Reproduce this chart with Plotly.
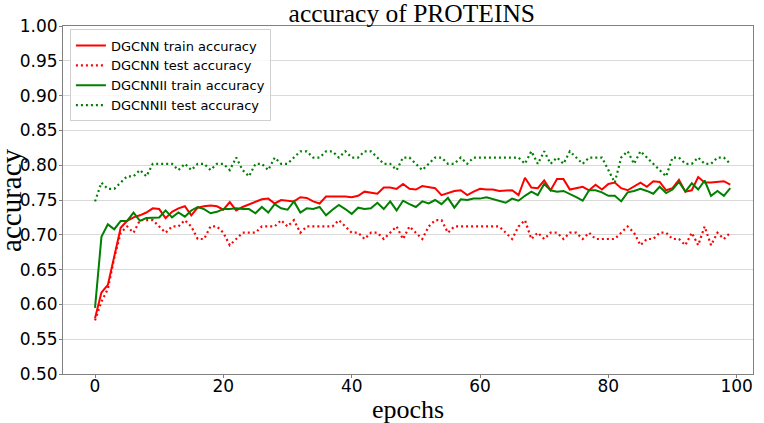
import plotly.graph_objects as go

epochs = list(range(100))

dgcnn_train = [
    0.580, 0.617, 0.628, 0.670, 0.710, 0.720, 0.725, 0.728, 0.732, 0.738,
    0.737, 0.724, 0.733, 0.738, 0.741, 0.728, 0.739, 0.741, 0.742, 0.741,
    0.736, 0.747, 0.735, 0.740, 0.744, 0.748, 0.751, 0.752, 0.745, 0.750,
    0.749, 0.748, 0.754, 0.753, 0.748, 0.745, 0.755, 0.755, 0.756, 0.755,
    0.754, 0.756, 0.762, 0.761, 0.759, 0.768, 0.768, 0.766, 0.773, 0.766,
    0.765, 0.770, 0.768, 0.767, 0.757, 0.760, 0.763, 0.764, 0.757, 0.762,
    0.766, 0.765, 0.765, 0.763, 0.764, 0.764, 0.757, 0.782, 0.768, 0.767,
    0.778, 0.764, 0.780, 0.780, 0.765, 0.767, 0.769, 0.764, 0.772, 0.765,
    0.773, 0.775, 0.767, 0.764, 0.769, 0.775, 0.769, 0.777, 0.776, 0.764,
    0.767, 0.779, 0.762, 0.764, 0.783, 0.775, 0.775, 0.776, 0.777, 0.772,
]

dgcnn_test = [
    0.577, 0.604, 0.622, 0.667, 0.703, 0.712, 0.703, 0.721, 0.721, 0.721,
    0.712, 0.703, 0.712, 0.712, 0.721, 0.712, 0.694, 0.694, 0.712, 0.712,
    0.703, 0.685, 0.694, 0.703, 0.703, 0.703, 0.712, 0.712, 0.712, 0.721,
    0.712, 0.721, 0.703, 0.712, 0.712, 0.712, 0.712, 0.712, 0.721, 0.712,
    0.703, 0.703, 0.694, 0.703, 0.703, 0.694, 0.703, 0.712, 0.694, 0.712,
    0.703, 0.694, 0.712, 0.721, 0.721, 0.703, 0.712, 0.712, 0.712, 0.712,
    0.712, 0.712, 0.712, 0.712, 0.703, 0.694, 0.712, 0.721, 0.694, 0.703,
    0.694, 0.703, 0.703, 0.694, 0.703, 0.703, 0.694, 0.703, 0.694, 0.694,
    0.694, 0.694, 0.703, 0.712, 0.703, 0.685, 0.694, 0.694, 0.703, 0.703,
    0.694, 0.694, 0.685, 0.703, 0.685, 0.712, 0.685, 0.703, 0.694, 0.703,
]

dgcnnii_train = [
    0.595, 0.697, 0.715, 0.708, 0.720, 0.720, 0.732, 0.720, 0.724, 0.725,
    0.725, 0.735, 0.725, 0.732, 0.726, 0.735, 0.740, 0.737, 0.731, 0.733,
    0.737, 0.737, 0.738, 0.737, 0.737, 0.731, 0.740, 0.732, 0.744, 0.738,
    0.736, 0.748, 0.732, 0.738, 0.737, 0.740, 0.728, 0.736, 0.743, 0.737,
    0.730, 0.739, 0.737, 0.738, 0.746, 0.737, 0.748, 0.735, 0.749, 0.744,
    0.740, 0.748, 0.745, 0.750, 0.744, 0.753, 0.739, 0.751, 0.750, 0.752,
    0.752, 0.754, 0.751, 0.749, 0.746, 0.752, 0.749, 0.756, 0.762, 0.757,
    0.773, 0.764, 0.762, 0.763, 0.759, 0.754, 0.749, 0.764, 0.764, 0.761,
    0.756, 0.756, 0.748, 0.761, 0.763, 0.766, 0.763, 0.759, 0.769, 0.760,
    0.765, 0.776, 0.762, 0.774, 0.765, 0.778, 0.756, 0.763, 0.756, 0.767,
]

dgcnnii_test = [
    0.748, 0.775, 0.766, 0.766, 0.775, 0.784, 0.784, 0.793, 0.784, 0.802,
    0.802, 0.802, 0.802, 0.793, 0.802, 0.793, 0.802, 0.802, 0.793, 0.802,
    0.802, 0.793, 0.811, 0.793, 0.784, 0.802, 0.802, 0.793, 0.811, 0.802,
    0.802, 0.811, 0.820, 0.820, 0.811, 0.811, 0.820, 0.820, 0.811, 0.820,
    0.811, 0.811, 0.820, 0.820, 0.811, 0.802, 0.802, 0.793, 0.811, 0.811,
    0.802, 0.793, 0.802, 0.811, 0.811, 0.802, 0.802, 0.811, 0.802, 0.811,
    0.811, 0.811, 0.811, 0.811, 0.811, 0.811, 0.811, 0.802, 0.820, 0.802,
    0.820, 0.802, 0.811, 0.802, 0.820, 0.811, 0.802, 0.811, 0.811, 0.811,
    0.793, 0.775, 0.811, 0.820, 0.802, 0.820, 0.811, 0.802, 0.793, 0.784,
    0.811, 0.811, 0.802, 0.802, 0.811, 0.802, 0.802, 0.811, 0.811, 0.802,
]

series_names = [
    "DGCNN train accuracy",
    "DGCNN test accuracy",
    "DGCNNII train accuracy",
    "DGCNNII test accuracy",
]

x_ticks = [0, 20, 40, 60, 80, 100]
y_ticks = [0.50, 0.55, 0.60, 0.65, 0.70, 0.75, 0.80, 0.85, 0.90, 0.95, 1.00]

RED = "#ff0000"
GREEN = "#008000"
DOT = "2px,3px"

fig = go.Figure()
fig.add_trace(go.Scatter(x=epochs, y=dgcnn_train, mode="lines", name=series_names[0],
                         line=dict(color=RED, width=2)))
fig.add_trace(go.Scatter(x=epochs, y=dgcnn_test, mode="lines", name=series_names[1],
                         line=dict(color=RED, width=2.2, dash=DOT)))
fig.add_trace(go.Scatter(x=epochs, y=dgcnnii_train, mode="lines", name=series_names[2],
                         line=dict(color=GREEN, width=2)))
fig.add_trace(go.Scatter(x=epochs, y=dgcnnii_test, mode="lines", name=series_names[3],
                         line=dict(color=GREEN, width=2.2, dash=DOT)))

axis_line = "#808080"
fig.update_layout(
    width=764, height=423,
    margin=dict(l=63, r=11, t=26, b=49),
    paper_bgcolor="white", plot_bgcolor="white",
    title=dict(text="accuracy of PROTEINS", x=0.539, xanchor="center",
               yref="container", y=0.97, yanchor="middle",
               font=dict(family="Liberation Serif", size=25.5, color="black")),
    legend=dict(x=0.01, y=0.99, xanchor="left", yanchor="top",
                bgcolor="rgba(255,255,255,0.8)", bordercolor="#d0d0d0", borderwidth=1,
                tracegroupgap=0,
                font=dict(family="DejaVu Sans", size=13, color="black")),
    showlegend=True,
    xaxis=dict(range=[-4.99, 102.54], tickvals=x_ticks, showgrid=False, zeroline=False,
               showline=True, mirror=True, linecolor=axis_line, linewidth=1,
               ticks="outside", ticklen=3, tickcolor=axis_line, ticklabelstandoff=-6,
               tickfont=dict(family="DejaVu Sans", size=17, color="black")),
    yaxis=dict(range=[0.5, 1.0], tickvals=y_ticks, tickformat=".2f", showgrid=True,
               gridcolor="#d9d9d9", gridwidth=1, zeroline=False,
               showline=True, mirror=True, linecolor=axis_line, linewidth=1,
               ticks="outside", ticklen=3, tickcolor=axis_line, ticklabelstandoff=-2,
               tickfont=dict(family="DejaVu Sans", size=17, color="black")),
    annotations=[
        dict(text="epochs", xref="paper", yref="paper", x=0.5, y=-0.1006,
             xanchor="center", yanchor="middle", showarrow=False,
             font=dict(family="Liberation Serif", size=26, color="black")),
        dict(text="accuracy", xref="paper", yref="paper", x=-0.0754, y=0.5,
             xanchor="center", yanchor="middle", textangle=-90, showarrow=False,
             font=dict(family="Liberation Serif", size=29, color="black")),
    ],
)

fig.write_html("out.html", config={"displayModeBar": False},
               post_script="document.body.style.margin='0';document.body.style.padding='0';")
